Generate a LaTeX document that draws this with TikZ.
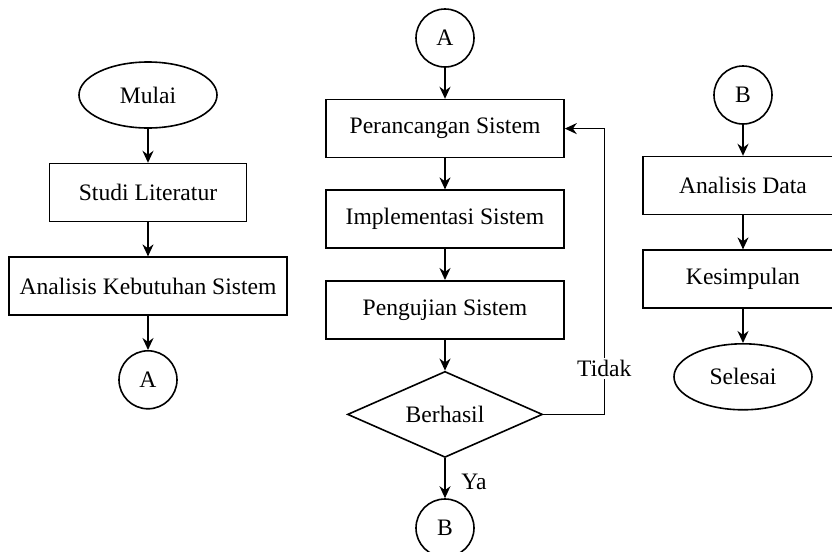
\documentclass[tikz,border=0pt]{standalone}
\usepackage{fontspec}
\setmainfont{Liberation Serif}
\usetikzlibrary{positioning,arrows.meta,shapes.geometric}

\begin{document}
\begin{tikzpicture}[
  x=0.5pt, y=-0.5pt,
  node distance=15.5pt,
  line width=0.8pt,
  font=\fontsize{11.8}{14}\selectfont,
  proses/.style={draw, rectangle, minimum height=29pt, inner sep=2pt},
  terminal/.style={draw, ellipse, minimum width=69pt, minimum height=33pt, inner sep=1pt},
  konektor/.style={draw, circle, minimum size=29pt, inner sep=0pt},
  keputusan/.style={draw, diamond, aspect=2.27, minimum width=97.5pt, minimum height=43pt, inner sep=0pt},
  panah/.style={-{Stealth[length=6pt,width=5.5pt]}}
]
  \useasboundingbox (0,0) rectangle (832,552);

  % kolom kiri
  \node[terminal] (mulai) at (148,95) {Mulai};
  \node[proses, minimum width=98.5pt, below=17pt of mulai] (studi) {Studi Literatur};
  \node[proses, minimum width=139pt, below=17pt of studi] (kebutuhan) {Analisis Kebutuhan Sistem};
  \node[konektor, below=17pt of kebutuhan] (konA) {A};

  % kolom tengah
  \node[konektor] (konA2) at (445,38) {A};
  \node[proses, minimum width=119pt, below=of konA2] (perancangan) {Perancangan Sistem};
  \node[proses, minimum width=119pt, below=of perancangan] (implementasi) {Implementasi Sistem};
  \node[proses, minimum width=119pt, below=of implementasi] (pengujian) {Pengujian Sistem};
  \node[keputusan, below=of pengujian] (berhasil) {Berhasil};
  \node[konektor, below=20pt of berhasil] (konB) {B};

  % kolom kanan
  \node[konektor] (konB2) at (743,95) {B};
  \node[proses, minimum width=100pt, below=of konB2] (analisis) {Analisis Data};
  \node[proses, minimum width=100pt, below=17pt of analisis] (kesimpulan) {Kesimpulan};
  \node[terminal, below=17pt of kesimpulan] (selesai) {Selesai};

  \draw[panah] (mulai) -- (studi);
  \draw[panah] (studi) -- (kebutuhan);
  \draw[panah] (kebutuhan) -- (konA);

  \draw[panah] (konA2) -- (perancangan);
  \draw[panah] (perancangan) -- (implementasi);
  \draw[panah] (implementasi) -- (pengujian);
  \draw[panah] (pengujian) -- (berhasil);
  \draw[panah] (berhasil) -- node[right, pos=0.6, xshift=4.5pt] {Ya} (konB);
  \draw[panah] (berhasil.east) -- ++(30.5pt,0) coordinate (belok)
    |- (perancangan.east) node[pos=0.08, fill=white, inner sep=1pt] {Tidak};

  \draw[panah] (konB2) -- (analisis);
  \draw[panah] (analisis) -- (kesimpulan);
  \draw[panah] (kesimpulan) -- (selesai);
\end{tikzpicture}
\end{document}
